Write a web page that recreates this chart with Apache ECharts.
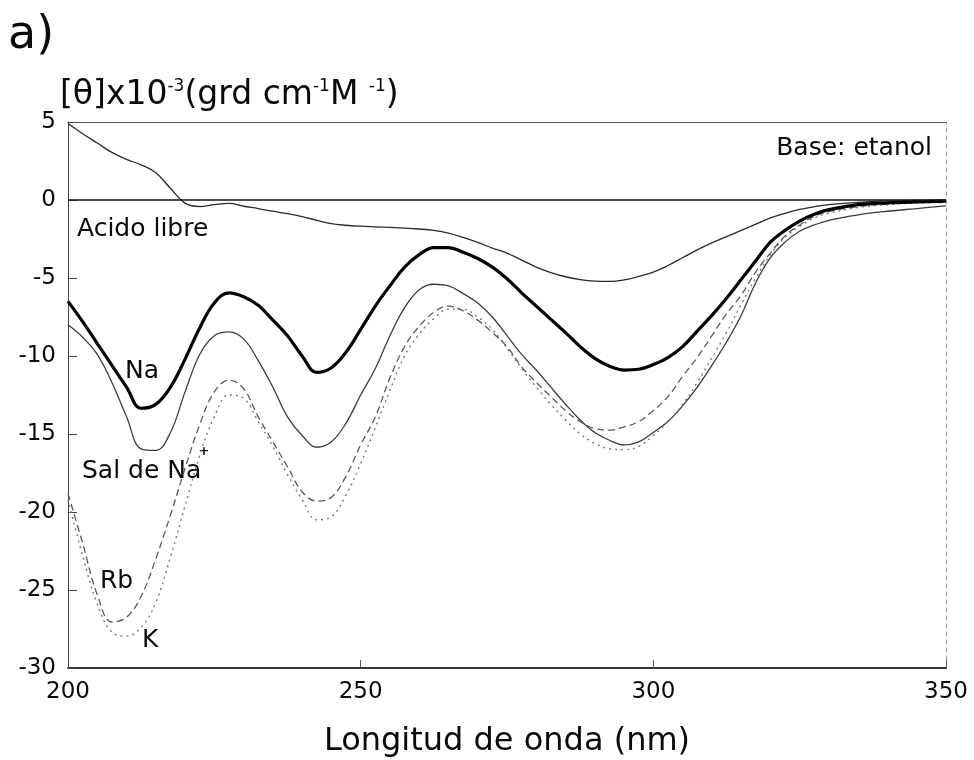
<!DOCTYPE html>
<html>
<head>
<meta charset="utf-8">
<script src="https://cdn.jsdelivr.net/npm/echarts@6/dist/echarts.min.js"></script>
<style>
  html, body { margin: 0; padding: 0; background: #ffffff; }
  #chart { width: 974px; height: 760px; }
</style>
</head>
<body>
<div id="chart"></div>
<script>
// Circular dichroism spectra in ethanol: wavelength (nm) vs [θ]·10^-3
const wavelengths = [200, 202.5, 205, 207.5, 210, 212.5, 215, 217.5, 220, 222.5, 225, 227.5, 230, 232.5, 235, 237.5, 240, 242.5, 245, 247.5, 250, 252.5, 255, 257.5, 260, 262.5, 265, 267.5, 270, 272.5, 275, 277.5, 280, 282.5, 285, 287.5, 290, 292.5, 295, 297.5, 300, 302.5, 305, 307.5, 310, 312.5, 315, 317.5, 320, 322.5, 325, 327.5, 330, 335, 340, 345, 350];

const acidoLibre = [4.9, 4.25, 3.65, 3.05, 2.6, 2.25, 1.75, 0.75, -0.2, -0.42, -0.3, -0.22, -0.4, -0.55, -0.72, -0.88, -1.07, -1.3, -1.52, -1.62, -1.68, -1.72, -1.76, -1.8, -1.86, -1.95, -2.12, -2.4, -2.72, -3.08, -3.4, -3.85, -4.3, -4.65, -4.92, -5.1, -5.2, -5.22, -5.12, -4.9, -4.62, -4.2, -3.7, -3.2, -2.75, -2.35, -1.95, -1.55, -1.15, -0.85, -0.6, -0.43, -0.3, -0.15, -0.06, -0.03, 0];

const salNa = [-8.0, -8.8, -9.9, -11.7, -13.9, -15.95, -16.05, -14.9, -12.3, -9.9, -8.7, -8.45, -8.9, -10.3, -12.0, -13.9, -15.1, -15.85, -15.5, -14.3, -12.5, -10.8, -8.7, -6.9, -5.75, -5.4, -5.5, -6.0, -6.6, -7.5, -8.7, -9.9, -10.9, -12.0, -13.1, -14.1, -14.9, -15.4, -15.7, -15.5, -14.9, -14.2, -13.2, -12.0, -10.6, -9.1, -7.4, -5.3, -3.7, -2.7, -2.0, -1.6, -1.3, -0.95, -0.72, -0.55, -0.38];

const na = [-6.5, -7.8, -9.2, -10.6, -12.0, -13.35, -13.1, -12.0, -10.2, -8.2, -6.6, -5.95, -6.2, -6.75, -7.7, -8.7, -10.0, -11.05, -10.75, -9.75, -8.3, -6.8, -5.5, -4.3, -3.5, -3.05, -3.05, -3.35, -3.75, -4.3, -5.05, -5.95, -6.8, -7.65, -8.5, -9.4, -10.15, -10.65, -10.9, -10.85, -10.55, -10.1, -9.4, -8.4, -7.4, -6.3, -5.1, -3.9, -2.7, -1.95, -1.35, -0.92, -0.62, -0.3, -0.18, -0.12, -0.08];

const rb = [-18.8, -22.0, -25.3, -27.05, -26.75, -25.4, -23.0, -20.2, -17.2, -14.4, -12.3, -11.55, -12.1, -13.9, -15.5, -17.1, -18.7, -19.3, -19.05, -17.7, -15.7, -13.9, -11.4, -9.4, -8.1, -7.2, -6.8, -7.1, -7.7, -8.5, -9.4, -10.7, -11.7, -12.6, -13.5, -14.2, -14.65, -14.75, -14.55, -14.2, -13.5, -12.6, -11.3, -10.1, -8.7, -7.3, -6.1, -4.6, -3.4, -2.3, -1.6, -1.05, -0.75, -0.42, -0.25, -0.15, -0.1];

const k = [-19.2, -22.8, -25.9, -27.7, -27.95, -27.4, -25.8, -22.9, -19.6, -16.4, -13.9, -12.5, -12.7, -14.2, -15.8, -17.6, -19.2, -20.5, -20.3, -18.9, -16.9, -14.6, -12.2, -10.0, -8.6, -7.6, -7.0, -7.0, -7.5, -8.3, -9.5, -10.8, -12.0, -13.1, -14.1, -15.0, -15.6, -15.95, -16.0, -15.8, -15.1, -14.2, -13.1, -11.7, -10.1, -8.5, -6.7, -5.0, -3.5, -2.4, -1.7, -1.15, -0.85, -0.48, -0.3, -0.2, -0.15];

// axis ranges and ticks
const xTicks = [200, 250, 300, 350];
const yTicks = [5, 0, -5, -10, -15, -20, -25, -30];

const FONT = 'DejaVu Sans';
const pairs = arr => wavelengths.map((w, i) => [w, arr[i]]);

const chart = echarts.init(document.getElementById('chart'), null, { renderer: 'canvas' });

const baseSeries = (name, arr, lineStyle, extra) => Object.assign({
  name: name,
  type: 'line',
  data: pairs(arr),
  showSymbol: false,
  smooth: 0.4,
  lineStyle: lineStyle,
  silent: true,
  z: 3
}, extra || {});

chart.setOption({
  animation: false,
  backgroundColor: '#ffffff',
  grid: { left: 68, right: 28, top: 122, bottom: 92, containLabel: false, outerBoundsMode: 'none' },
  xAxis: [
    {
      type: 'value',
      min: xTicks[0],
      max: xTicks[xTicks.length - 1],
      interval: xTicks[1] - xTicks[0],
      position: 'bottom',
      name: 'Longitud de onda (nm)',
      nameLocation: 'middle',
      nameGap: 58,
      nameTextStyle: { fontFamily: FONT, fontSize: 32, color: '#0a0a0a' },
      axisLine: { show: true, onZero: false, lineStyle: { color: '#333', width: 2 } },
      axisTick: { show: true, inside: true, length: 8, lineStyle: { color: '#555', width: 1 } },
      axisLabel: { fontFamily: FONT, fontSize: 23, color: '#0a0a0a', margin: 13 },
      splitLine: { show: false }
    },
    {
      type: 'value',
      min: xTicks[0],
      max: xTicks[xTicks.length - 1],
      position: 'top',
      axisLine: { show: true, onZero: false, lineStyle: { color: '#555', width: 1 } },
      axisTick: { show: false },
      axisLabel: { show: false },
      splitLine: { show: false }
    }
  ],
  yAxis: [
    {
      type: 'value',
      min: yTicks[yTicks.length - 1],
      max: yTicks[0],
      interval: yTicks[0] - yTicks[1],
      position: 'left',
      axisLine: { show: true, onZero: false, lineStyle: { color: '#444', width: 1 } },
      axisTick: { show: true, inside: true, length: 9, lineStyle: { color: '#444', width: 1 } },
      axisLabel: { fontFamily: FONT, fontSize: 23, color: '#0a0a0a', margin: 12 },
      splitLine: { show: false }
    },
    {
      type: 'value',
      min: yTicks[yTicks.length - 1],
      max: yTicks[0],
      position: 'right',
      axisLine: { show: true, onZero: false, lineStyle: { color: '#999', width: 1, type: [4, 4] } },
      axisTick: { show: false },
      axisLabel: { show: false },
      splitLine: { show: false }
    }
  ],
  series: [
    baseSeries('Acido libre', acidoLibre, { color: '#2a2a2a', width: 1.3 }, {
      markLine: {
        silent: true,
        symbol: ['none', 'none'],
        label: { show: false },
        lineStyle: { color: '#111', width: 1.6, type: 'solid' },
        data: [{ yAxis: 0 }]
      }
    }),
    baseSeries('Sal de Na', salNa, { color: '#3c3c3c', width: 1.3 }),
    baseSeries('K', k, { color: '#7a7a7a', width: 1.4, type: [2, 4] }),
    baseSeries('Rb', rb, { color: '#5a5a5a', width: 1.3, type: [7, 4] }),
    baseSeries('Na', na, { color: '#000000', width: 3.2 }, { z: 4 })
  ],
  graphic: [
    { type: 'text', x: 8, y: 36, style: { text: 'a)', font: '46px "DejaVu Sans"', fill: '#0a0a0a', align: 'left', verticalAlign: 'middle' } },
    {
      type: 'text', x: 60, y: 95,
      style: {
        text: '[θ]x10{s|-3}(grd cm{s|-1}M {s|-1})',
        fontFamily: FONT, fontSize: 33, fill: '#0a0a0a', align: 'left', verticalAlign: 'middle',
        rich: { s: { fontFamily: FONT, fontSize: 17, fill: '#0a0a0a', verticalAlign: 'top', lineHeight: 17 } }
      }
    },
    { type: 'text', x: 932, y: 148, style: { text: 'Base: etanol', font: '25px "DejaVu Sans"', fill: '#0a0a0a', align: 'right', verticalAlign: 'middle' } },
    { type: 'text', x: 77, y: 229, style: { text: 'Acido libre', font: '25px "DejaVu Sans"', fill: '#0a0a0a', align: 'left', verticalAlign: 'middle' } },
    { type: 'text', x: 142, y: 371, style: { text: 'Na', font: '25px "DejaVu Sans"', fill: '#0a0a0a', align: 'center', verticalAlign: 'middle' } },
    { type: 'text', x: 82, y: 471, style: { text: 'Sal de Na', font: '25px "DejaVu Sans"', fill: '#0a0a0a', align: 'left', verticalAlign: 'middle' } },
    { type: 'text', x: 204, y: 452, style: { text: '+', font: 'bold 13px "DejaVu Sans"', fill: '#0a0a0a', align: 'center', verticalAlign: 'middle' } },
    { type: 'text', x: 100, y: 581, style: { text: 'Rb', font: '25px "DejaVu Sans"', fill: '#0a0a0a', align: 'left', verticalAlign: 'middle' } },
    { type: 'text', x: 142, y: 640, style: { text: 'K', font: '25px "DejaVu Sans"', fill: '#0a0a0a', align: 'left', verticalAlign: 'middle' } }
  ]
});
</script>
</body>
</html>
